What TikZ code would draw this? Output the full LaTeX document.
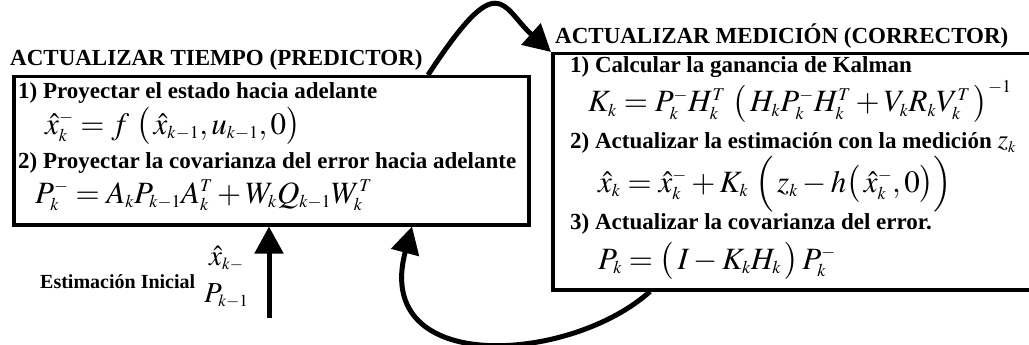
\documentclass[tikz,border=0pt]{standalone}
\usepackage{mathptmx}
\usepackage[no-math]{fontspec}
\setmainfont{Liberation Serif}
\usetikzlibrary{arrows.meta,calc}
\DeclareMathSizes{31}{31}{18}{13}
\DeclareMathSizes{29}{29}{17}{12}
\DeclareMathSizes{27}{27}{16}{12}

\tikzset{
  panel/.style={draw, line width=3.5pt, inner sep=0pt, anchor=north west},
  head/.style={anchor=base west, inner sep=0pt, font=\fontsize{23}{28}\selectfont\bfseries},
  item/.style={anchor=base west, inner sep=0pt, font=\fontsize{23}{28}\selectfont\bfseries},
  eqn/.style={anchor=base west, inner sep=0pt, font=\fontsize{31}{36}\selectfont},
  flow/.style={line width=5pt, -{Triangle[length=27pt,width=28pt]}},
}

\begin{document}
\begin{tikzpicture}[x=1pt,y=-1pt]
  \useasboundingbox (0,0) rectangle (1029,345);

  % Cuadros
  \node[panel, minimum width=515pt, minimum height=148pt] (pred) at (12,75) {};
  \node[panel, minimum width=482pt, minimum height=236pt] (corr) at (551,52) {};

  % Actualizar tiempo
  \node[head] (predtitle) at (10,66) {ACTUALIZAR TIEMPO (PREDICTOR)};
  \node[item] (p1) at (18,99) {1) Proyectar el estado hacia adelante};
  \node[eqn] (e1) at (45,134) {$\hat{x}_k^- = f\;\bigl(\,\hat{x}_{k-1},u_{k-1},0\bigr)$};
  \node[item] (p2) at (18,168) {2) Proyectar la covarianza del error hacia adelante};
  \node[eqn] (e2) at (35,203) {$P_k^- = A_kP_{k-1}A_k^T + W_kQ_{k-1}W_k^T$};

  % Actualizar medicion
  \node[head] (corrtitle) at (555,44) {ACTUALIZAR MEDICIÓN (CORRECTOR)};
  \node[item] (c1) at (570,73) {1) Calcular la ganancia de Kalman};
  \node[eqn] (e3) at (588,112) {$K_k = P_k^-H_k^T\;\bigl(\,H_kP_k^-H_k^T+V_kR_kV_k^T\,\bigr)^{-1}$};
  \node[item] (c2) at (570,148) {2) Actualizar la estimación con la medición {\mdseries\fontsize{27}{30}\selectfont$z_k$}};
  \node[eqn] (e4) at (598,192) {$\hat{x}_k = \hat{x}_k^- + K_k\;\Bigl(\,z_k - h\bigl(\,\hat{x}_k^-,0\bigr)\Bigr)$};
  \node[item] (c3) at (570,229) {3) Actualizar la covarianza del error.};
  \node[eqn] (e5) at (598,269) {$P_k = \bigl(\,I - K_kH_k\,\bigr)\,P_k^-$};

  % Estimacion inicial
  \node[item, font=\fontsize{20}{24}\selectfont\bfseries] (ini) at (40,288) {Estimación Inicial};
  \node[eqn, font=\fontsize{29}{34}\selectfont] (xini) at (209,265) {$\hat{x}_{k-}$};
  \node[eqn, font=\fontsize{29}{34}\selectfont] (pini) at (204,302) {$P_{k-1}$};
  \coordinate (inibase) at (269,318);

  % Flechas
  \draw[flow] (inibase) -- (inibase |- pred.south);
  \draw[flow] ([xshift=416pt]pred.north west) .. controls +(72,-110) and +(-50,-45) .. (corr.north west);
  \draw[flow] ([xshift=99pt]corr.south west) .. controls +(-80,72) and +(-40,150) .. ([xshift=400pt]pred.south west);
\end{tikzpicture}
\end{document}
